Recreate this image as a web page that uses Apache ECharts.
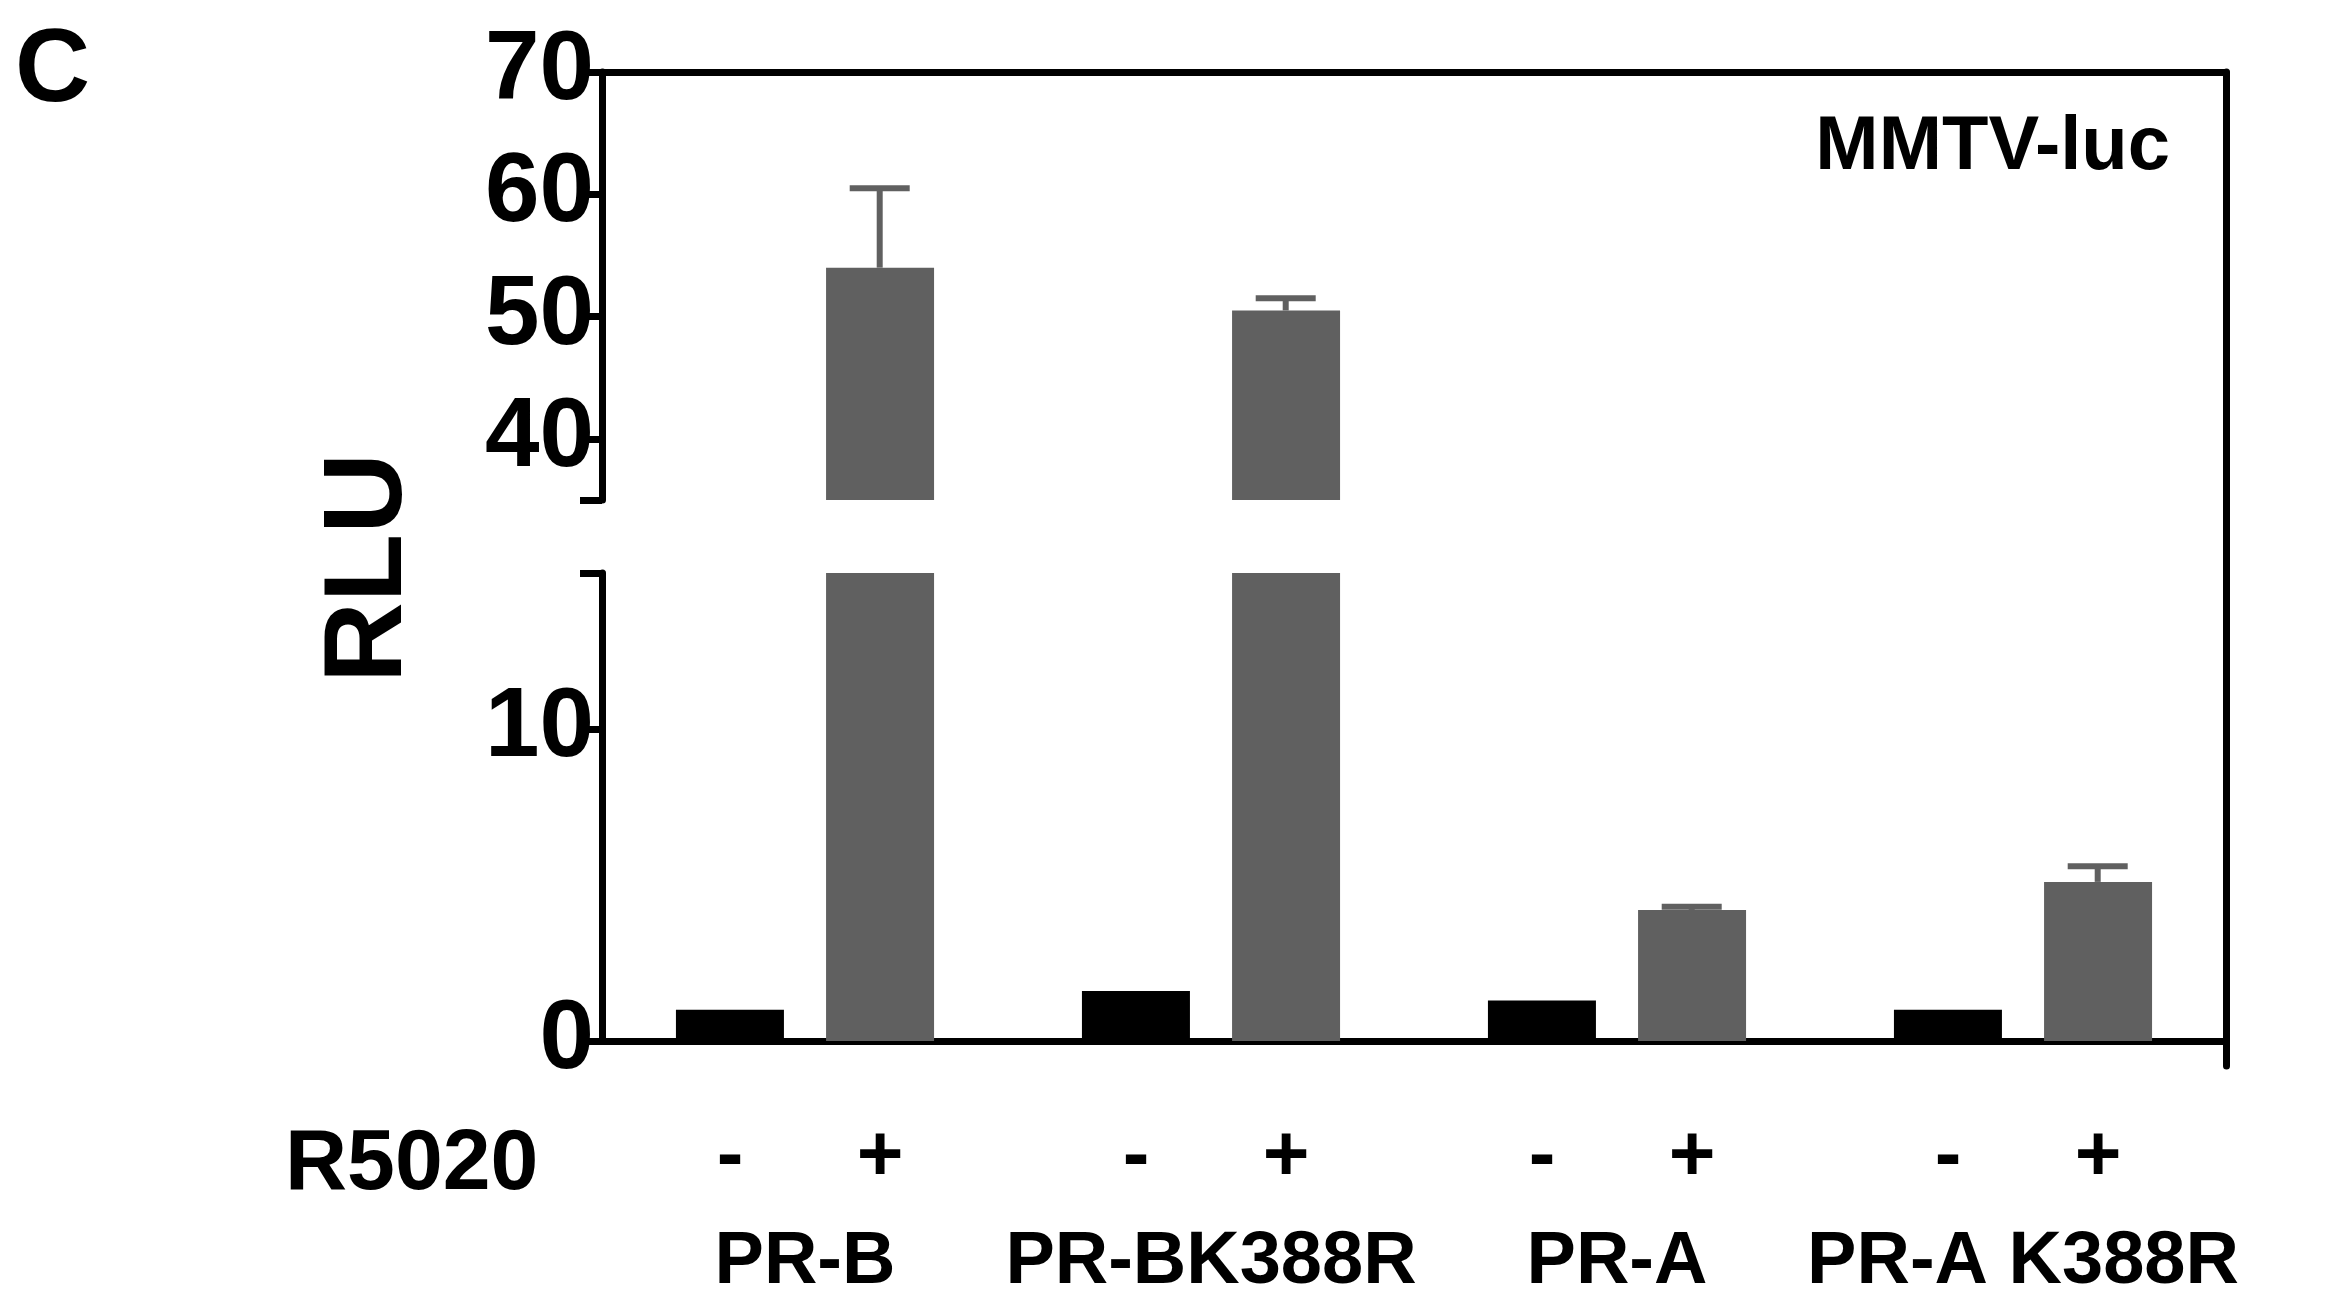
<!DOCTYPE html>
<html>
<head>
<meta charset="utf-8">
<script src="https://cdn.jsdelivr.net/npm/echarts@6/dist/echarts.min.js"></script>
<style>html,body{margin:0;padding:0;background:#fff}#main{width:2338px;height:1300px}</style>
</head>
<body>
<div id="main"></div>
<script>
// data
var groups = ['PR-B', 'PR-BK388R', 'PR-A', 'PR-A K388R'];
var minusVals = [1.0, 1.6, 1.3, 1.0];
var plusVals = [54, 50.5, 4.2, 5.1];
var plusErr = [60.5, 51.5, 4.3, 5.6];
var topTicks = [35, 40, 50, 60, 70];
var topLabels = [40, 50, 60, 70];
var botTicks = [0, 10, 15];
var botLabels = [0, 10];

var font = 'Liberation Sans';
var chart = echarts.init(document.getElementById('main'));

function errItem(params, api) {
  var c = api.coord([api.value(0), api.value(1)]);
  var top = api.coord([api.value(0), api.value(2)]);
  var band = api.size([1, 0])[0];
  var x = c[0] + band * 0.184;
  var st = {stroke: '#606060', lineWidth: 6};
  return {type: 'group', children: [
    {type: 'line', shape: {x1: x, y1: c[1], x2: x, y2: top[1]}, style: st},
    {type: 'line', shape: {x1: x - 30, y1: top[1], x2: x + 30, y2: top[1]}, style: st}
  ]};
}
var errData = groups.map(function (g, i) { return [i, plusVals[i], plusErr[i]]; });

var catAxis = function (idx, show) {
  return {
    type: 'category', gridIndex: idx, data: groups,
    position: idx === 0 ? 'top' : 'bottom',
    axisLine: {show: true, lineStyle: {color: '#000', width: 7}},
    axisTick: {show: false},
    axisLabel: show ? {
      margin: 62, interval: 0,
      formatter: function (v) { return '{s|-}{s|+}\n{g|' + v + '}'; },
      rich: {
        s: {width: 150, align: 'center', fontSize: 80, fontWeight: 'bold', fontFamily: font, color: '#000', lineHeight: 110},
        g: {fontSize: 74, fontWeight: 'bold', fontFamily: font, color: '#000', lineHeight: 100}
      }
    } : {show: false}
  };
};
var valAxis = function (idx, min, max, ticks, labels) {
  return {
    type: 'value', gridIndex: idx, min: min, max: max,
    splitLine: {show: false},
    axisLine: {show: true, lineStyle: {color: '#000', width: 7}},
    axisTick: {show: true, length: 22, lineStyle: {width: 7, color: '#000'}, customValues: ticks},
    axisLabel: {customValues: labels, fontSize: 98, fontWeight: 'bold', fontFamily: font, color: '#000', margin: 8}
  };
};

chart.setOption({
  animation: false,
  grid: [
    {left: 602, right: 112, top: 72, height: 428},
    {left: 602, right: 112, top: 573, height: 493},
    {left: 602, right: 112, top: 72, height: 994}
  ],
  xAxis: [catAxis(0, false), catAxis(1, true),
    {type: 'category', gridIndex: 2, data: groups, show: false}],
  yAxis: [valAxis(0, 35, 70, topTicks, topLabels), valAxis(1, 0, 15, botTicks, botLabels),
    {type: 'value', gridIndex: 2, position: 'right', min: 0, max: 1, splitLine: {show: false},
      axisLabel: {show: false}, axisTick: {show: false},
      axisLine: {show: true, lineStyle: {color: '#000', width: 7}}}],
  series: [
    {type: 'bar', xAxisIndex: 0, yAxisIndex: 0, data: minusVals, barWidth: 108, barGap: '39%', itemStyle: {color: '#000'}},
    {type: 'bar', xAxisIndex: 0, yAxisIndex: 0, data: plusVals, barWidth: 108, barGap: '39%', itemStyle: {color: '#606060'}, clip: true},
    {type: 'bar', xAxisIndex: 1, yAxisIndex: 1, data: minusVals, barWidth: 108, barGap: '39%', itemStyle: {color: '#000'}},
    {type: 'bar', xAxisIndex: 1, yAxisIndex: 1, data: plusVals, barWidth: 108, barGap: '39%', itemStyle: {color: '#606060'}, clip: true},
    {type: 'custom', xAxisIndex: 0, yAxisIndex: 0, data: errData.slice(0, 2), renderItem: errItem, z: 1, clip: true},
    {type: 'custom', xAxisIndex: 1, yAxisIndex: 1, data: errData.slice(2), renderItem: errItem, z: 1, clip: true}
  ],
  graphic: [
    {type: 'text', left: 15, top: 20, style: {text: 'C', fontSize: 104, fontWeight: 'bold', fontFamily: font, fill: '#000'}},
    {type: 'text', right: 168, top: 110, style: {text: 'MMTV-luc', fontSize: 76, fontWeight: 'bold', fontFamily: font, fill: '#000'}},
    {type: 'text', x: 285, y: 1165, style: {text: 'R5020', fontSize: 86, fontWeight: 'bold', fontFamily: font, fill: '#000', verticalAlign: 'middle'}},
    {type: 'text', x: 370, y: 568, rotation: Math.PI / 2, style: {text: 'RLU', fontSize: 112, fontWeight: 'bold', fontFamily: font, fill: '#000', align: 'center', verticalAlign: 'middle'}}
  ]
});
</script>
</body>
</html>
